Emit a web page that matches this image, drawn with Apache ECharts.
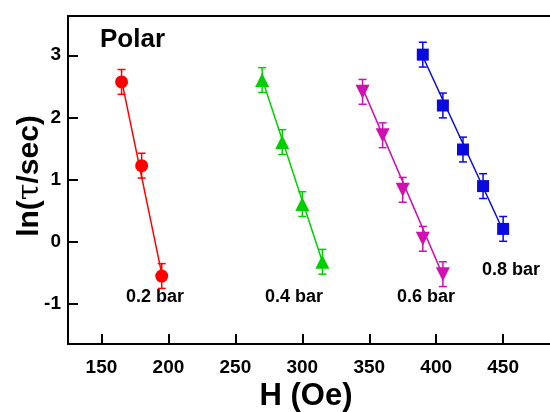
<!DOCTYPE html>
<html>
<head>
<meta charset="utf-8">
<script src="https://cdn.jsdelivr.net/npm/echarts@6/dist/echarts.min.js"></script>
<style>
  html, body { margin: 0; padding: 0; background: #fff; }
  #chart { width: 550px; height: 412px; }
</style>
</head>
<body>
<div id="chart"></div>
<script>
// 0.2 bar
const h02 = [165, 180, 195]
const ln02 = [2.57, 1.22, -0.56]
const err02 = [0.2, 0.2, 0.2]
const fit02 = [[165, 2.60], [195, -0.52]]

// 0.4 bar
const h04 = [270, 285, 300, 315]
const ln04 = [2.60, 1.60, 0.60, -0.33]
const err04 = [0.2, 0.2, 0.2, 0.2]
const fit04 = [[270, 2.62], [315, -0.33]]

// 0.6 bar
const h06 = [345, 360, 375, 390, 405]
const ln06 = [2.41, 1.71, 0.83, 0.04, -0.53]
const err06 = [0.2, 0.2, 0.2, 0.2, 0.2]
const fit06 = [[345, 2.47], [405, -0.55]]

// 0.8 bar
const h08 = [390, 405, 420, 435, 450]
const ln08 = [3.01, 2.19, 1.48, 0.89, 0.20]
const err08 = [0.2, 0.2, 0.2, 0.2, 0.2]
const fit08 = [[390, 2.98], [450, 0.17]]

const xTicks = [150, 200, 250, 300, 350, 400, 450]
const yTicks = [-1, 0, 1, 2, 3]

const FONT = 'Liberation Sans, Arial, sans-serif'

const groups = [
  { h: h02, ln: ln02, err: err02, fit: fit02, color: '#ff0000', symbol: 'circle', size: 13, rotate: 0 },
  { h: h04, ln: ln04, err: err04, fit: fit04, color: '#00d000', symbol: 'triangle', size: 14, rotate: 0 },
  { h: h06, ln: ln06, err: err06, fit: fit06, color: '#d010b0', symbol: 'triangle', size: 14, rotate: 180 },
  { h: h08, ln: ln08, err: err08, fit: fit08, color: '#0a0ae0', symbol: 'rect', size: 12, rotate: 0 }
]

const series = []
groups.forEach(g => {
  // fit line
  series.push({
    type: 'line',
    data: g.fit,
    showSymbol: false,
    symbol: 'none',
    lineStyle: { color: g.color, width: 1.5 },
    silent: true,
    z: 2
  })
  // error bars
  series.push({
    type: 'custom',
    data: g.h.map((x, i) => [x, g.ln[i], g.err[i]]),
    renderItem: (params, api) => {
      const x = api.value(0)
      const y = api.value(1)
      const e = api.value(2)
      const top = api.coord([x, y + e])
      const bot = api.coord([x, y - e])
      const w = 4
      const style = { stroke: g.color, lineWidth: 1.5 }
      return {
        type: 'group',
        children: [
          { type: 'line', shape: { x1: top[0], y1: top[1], x2: bot[0], y2: bot[1] }, style },
          { type: 'line', shape: { x1: top[0] - w, y1: top[1], x2: top[0] + w, y2: top[1] }, style },
          { type: 'line', shape: { x1: bot[0] - w, y1: bot[1], x2: bot[0] + w, y2: bot[1] }, style }
        ]
      }
    },
    silent: true,
    z: 3
  })
  // points
  series.push({
    type: 'scatter',
    data: g.h.map((x, i) => [x, g.ln[i]]),
    symbol: g.symbol,
    symbolSize: g.size,
    symbolRotate: g.rotate,
    itemStyle: { color: g.color, opacity: 1 },
    z: 4
  })
})

const chart = echarts.init(document.getElementById('chart'), null, { renderer: 'canvas' })

// x axis runs off the right edge of the picture, so it stops at 485 here
const xAxisBase = {
  type: 'value',
  min: 125,
  max: 485,
  splitLine: { show: false }
}

const option = {
  animation: false,
  backgroundColor: '#fff',
  grid: { left: 68, right: 0, top: 16, bottom: 68, containLabel: false },
  xAxis: [
    Object.assign({}, xAxisBase, {
      axisLine: { show: true, onZero: false, lineStyle: { color: '#000', width: 2 } },
      axisTick: { show: true, inside: true, length: 10, customValues: xTicks, lineStyle: { color: '#000', width: 2 } },
      axisLabel: { customValues: xTicks, margin: 14, color: '#000', fontSize: 19, fontWeight: 'bold', fontFamily: FONT }
    }),
    Object.assign({}, xAxisBase, {
      position: 'top',
      axisLine: { show: true, onZero: false, lineStyle: { color: '#000', width: 2 } },
      axisTick: { show: false },
      axisLabel: { show: false }
    })
  ],
  yAxis: {
    type: 'value',
    min: -1.656,
    max: 3.633,
    splitLine: { show: false },
    axisLine: { show: true, onZero: false, lineStyle: { color: '#000', width: 2 } },
    axisTick: { show: true, inside: true, length: 10, customValues: yTicks, lineStyle: { color: '#000', width: 2 } },
    axisLabel: { customValues: yTicks, margin: 7, color: '#000', fontSize: 19, fontWeight: 'bold', fontFamily: FONT }
  },
  graphic: [
    { type: 'text', left: 100, top: 27, style: { text: 'Polar', fill: '#000', font: 'bold 26px ' + FONT } },
    { type: 'text', x: 306, y: 396, style: { text: 'H (Oe)', fill: '#000', font: 'bold 31px ' + FONT, align: 'center', verticalAlign: 'middle' } },
    {
      type: 'text', x: 30, y: 176, rotation: Math.PI / 2,
      style: {
        text: '{a|ln(}{b|τ}{a|/sec)}',
        align: 'center', verticalAlign: 'middle',
        rich: {
          a: { fill: '#000', fontSize: 30, fontWeight: 'bold', fontFamily: FONT },
          b: { fill: '#000', fontSize: 30, fontWeight: 'normal', fontFamily: 'DejaVu Serif, serif' }
        }
      }
    },
    { type: 'text', x: 155, y: 297, style: { text: '0.2 bar', fill: '#000', font: 'bold 18px ' + FONT, align: 'center', verticalAlign: 'middle' } },
    { type: 'text', x: 294, y: 297, style: { text: '0.4 bar', fill: '#000', font: 'bold 18px ' + FONT, align: 'center', verticalAlign: 'middle' } },
    { type: 'text', x: 426, y: 297, style: { text: '0.6 bar', fill: '#000', font: 'bold 18px ' + FONT, align: 'center', verticalAlign: 'middle' } },
    { type: 'text', x: 511, y: 270, style: { text: '0.8 bar', fill: '#000', font: 'bold 18px ' + FONT, align: 'center', verticalAlign: 'middle' } }
  ],
  series: series
}

chart.setOption(option)
</script>
</body>
</html>
